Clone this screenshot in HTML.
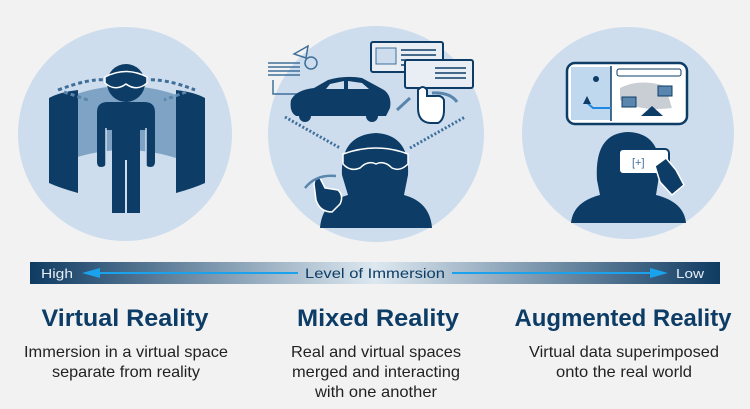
<!DOCTYPE html>
<html><head><meta charset="utf-8"><style>
html,body{margin:0;padding:0;background:#f2f2f2}
svg{display:block}
text{font-family:"Liberation Sans",sans-serif}
</style></head><body>
<svg width="750" height="409" viewBox="0 0 750 409" xmlns="http://www.w3.org/2000/svg">
<defs>
<linearGradient id="bar" x1="0" x2="1" y1="0" y2="0">
<stop offset="0" stop-color="#0f3b62"/><stop offset="0.5" stop-color="#dde8f0"/><stop offset="1" stop-color="#0f3b62"/>
</linearGradient>
</defs>
<rect width="750" height="409" fill="#f2f2f2"/>
<circle cx="125" cy="134" r="107" fill="#cddded"/>
<circle cx="376" cy="134" r="108" fill="#cddded"/>
<circle cx="628" cy="133" r="106" fill="#cddded"/>

<!-- VR -->
<path d="M68 97 Q125 75 182 97 L182 160 Q125 140 68 160Z" fill="#7ea3c4"/>
<path d="M49 98 Q60 92 78 90 L78 193 Q60 188 49 183Z" fill="#0d3d66"/>
<path d="M205 98 Q194 92 176 90 L176 193 Q194 188 205 183Z" fill="#0d3d66"/>
<path d="M58 90 Q90 78 106 80 M144 80 Q165 78 195 90" stroke="#3f6f99" stroke-width="3" stroke-dasharray="4 3" fill="none"/>
<path d="M64 92 L88 100 M186 92 L164 100" stroke="#5a86ad" stroke-width="3" stroke-dasharray="4 3" fill="none"/>
<circle cx="126" cy="83" r="19" fill="#0d3d66"/>
<path d="M105 77 Q126 66 147 77 L147 83 Q137 92 126 84 Q115 92 105 83Z" fill="#0d3d66" stroke="#fff" stroke-width="1.5"/>
<path d="M97 112 Q97 102 108 102 L144 102 Q155 102 155 112 L155 162 Q155 167 150 167 Q146 167 146 162 L146 130 L140 130 L140 213 L112 213 L112 130 L106 130 L106 162 Q106 167 101 167 Q97 167 97 162Z" fill="#0d3d66"/>
<line x1="126" y1="160" x2="126" y2="214" stroke="#cddded" stroke-width="2"/>
<line x1="106" y1="128" x2="106" y2="165" stroke="#cddded" stroke-width="1.5"/>
<line x1="146" y1="128" x2="146" y2="165" stroke="#cddded" stroke-width="1.5"/>

<!-- MR -->
<g fill="none" stroke="#3f6f99" stroke-width="1.5">
<line x1="268" y1="63" x2="300" y2="63"/><line x1="268" y1="67" x2="300" y2="67"/><line x1="268" y1="71" x2="300" y2="71"/><line x1="268" y1="75" x2="300" y2="75"/>
<path d="M273 80 L273 94 L318 94"/>
<path d="M294 54 L308 46 L306 58Z"/><circle cx="311" cy="63" r="6"/>
</g>
<path d="M291 100 Q296 90 314 88 L328 80 Q345 75 362 78 L384 90 Q392 96 390 108 L386 116 L296 116 Q289 112 291 100Z" fill="#0d3d66"/>
<path d="M330 84 L344 81 L344 89 L326 89Z M348 81 L362 83 L369 89 L348 89Z" fill="#cddded"/>
<circle cx="305" cy="116" r="6" fill="#0d3d66"/><circle cx="372" cy="116" r="6" fill="#0d3d66"/>
<rect x="371" y="42" width="72" height="30" rx="2" fill="#e8eef4" stroke="#0d3d66" stroke-width="2"/>
<rect x="376" y="48" width="20" height="16" fill="#cddded" stroke="#3f6f99"/>
<g stroke="#0d3d66" stroke-width="1.5"><line x1="401" y1="50" x2="436" y2="50"/><line x1="401" y1="55" x2="436" y2="55"/><line x1="401" y1="60" x2="436" y2="60"/><line x1="401" y1="65" x2="436" y2="65"/></g>
<rect x="405" y="60" width="68" height="28" rx="2" fill="#e8eef4" stroke="#0d3d66" stroke-width="2"/>
<g stroke="#0d3d66" stroke-width="1.5"><line x1="435" y1="68" x2="466" y2="68"/><line x1="435" y1="73" x2="466" y2="73"/><line x1="435" y1="78" x2="466" y2="78"/></g>
<path d="M418 90 L418 108 Q418 122 430 123 L438 123 Q444 120 444 110 L444 100 Q442 95 436 96 L427 96 L427 90 Q423 84 418 90Z" fill="#fff" stroke="#0d3d66" stroke-width="2"/>
<path d="M410 98 L397 110 M432 93 Q450 92 457 102" stroke="#5a86ad" stroke-width="3" fill="none"/>
<g stroke="#3f6f99" stroke-width="3" stroke-dasharray="2 2"><line x1="285" y1="117" x2="340" y2="148"/><line x1="410" y1="148" x2="465" y2="117"/></g>
<path d="M342 175 Q340 135 376 133 Q410 135 408 175 L404 195 Q430 202 432 228 L320 228 Q322 202 348 195Z" fill="#0d3d66"/>
<path d="M343 154 Q376 142 408 154 L408 164 Q400 172 392 168 Q384 160 376 164 Q368 160 360 168 Q350 172 343 164Z" fill="#0d3d66" stroke="#fff" stroke-width="1.5"/>
<path d="M320 178 L325 188 L338 190 Q344 196 340 204 L332 212 Q320 212 316 200 L314 184 Q315 176 320 178Z" fill="#0d3d66" stroke="#fff" stroke-width="1.5"/>
<path d="M305 188 Q316 174 336 176" stroke="#5a86ad" stroke-width="2.5" fill="none"/>

<!-- AR -->
<rect x="567" y="63" width="120" height="61" rx="8" fill="#fff" stroke="#0d3d66" stroke-width="2.5"/>
<rect x="571" y="67" width="40" height="53" fill="#bfd8ee"/>
<line x1="611" y1="66" x2="611" y2="121" stroke="#0d3d66" stroke-width="1.5"/>
<path d="M585 101 L593 108 L611 108" stroke="#1e88e5" stroke-width="2" fill="none"/>
<path d="M583 104 L587 96 L591 104Z" fill="#0d3d66"/>
<circle cx="596" cy="79" r="3" fill="#0d3d66"/>
<rect x="617" y="69" width="64" height="7" rx="2" fill="#fff" stroke="#0d3d66"/>
<path d="M620 88 Q640 78 665 86 L672 108 Q640 112 620 100Z" fill="#c9ced4"/>
<rect x="622" y="97" width="14" height="10" fill="#5a86ad" stroke="#0d3d66"/>
<rect x="658" y="86" width="14" height="10" fill="#5a86ad" stroke="#0d3d66"/>
<path d="M641 116 L652 106 L663 116Z" fill="#0d3d66"/>
<path d="M597 180 Q594 133 628 132 Q660 133 660 170 L656 195 Q684 202 686 223 L571 223 Q573 202 600 195Z" fill="#0d3d66"/>
<rect x="619" y="149" width="50" height="25" rx="4" fill="#fff" stroke="#0d3d66" stroke-width="2"/>
<text x="632" y="166" font-size="11" fill="#3f6f99">[+]</text>
<path d="M655 166 L666 158 L676 170 L684 185 L672 195 L660 182Z" fill="#0d3d66" stroke="#fff" stroke-width="1.5"/>

<!-- bar -->
<rect x="30" y="262" width="690" height="22" fill="url(#bar)"/>
<text x="41" y="278" font-size="13" fill="#e6eef5" textLength="32" lengthAdjust="spacingAndGlyphs">High</text>
<text x="676" y="278" font-size="13" fill="#e6eef5" textLength="28" lengthAdjust="spacingAndGlyphs">Low</text>
<text x="375" y="278" font-size="14" fill="#0d3d66" text-anchor="middle" textLength="140" lengthAdjust="spacingAndGlyphs">Level of Immersion</text>
<line x1="90" y1="273" x2="298" y2="273" stroke="#1aa3ec" stroke-width="2"/>
<path d="M82 273 L100 268 L100 278Z" fill="#1aa3ec"/>
<line x1="452" y1="273" x2="658" y2="273" stroke="#1aa3ec" stroke-width="2"/>
<path d="M668 273 L650 268 L650 278Z" fill="#1aa3ec"/>

<g font-weight="bold" font-size="24" fill="#0d3d66" text-anchor="middle">
<text x="125" y="326" textLength="167" lengthAdjust="spacingAndGlyphs">Virtual Reality</text>
<text x="378" y="326" textLength="162" lengthAdjust="spacingAndGlyphs">Mixed Reality</text>
<text x="623" y="326" textLength="217" lengthAdjust="spacingAndGlyphs">Augmented Reality</text>
</g>
<g font-size="16" fill="#222" text-anchor="middle">
<text x="126" y="357" textLength="204" lengthAdjust="spacingAndGlyphs">Immersion in a virtual space</text>
<text x="126" y="377" textLength="148" lengthAdjust="spacingAndGlyphs">separate from reality</text>
<text x="376" y="357" textLength="170" lengthAdjust="spacingAndGlyphs">Real and virtual spaces</text>
<text x="376" y="377" textLength="168" lengthAdjust="spacingAndGlyphs">merged and interacting</text>
<text x="376" y="397" textLength="122" lengthAdjust="spacingAndGlyphs">with one another</text>
<text x="624" y="357" textLength="190" lengthAdjust="spacingAndGlyphs">Virtual data superimposed</text>
<text x="624" y="377" textLength="136" lengthAdjust="spacingAndGlyphs">onto the real world</text>
</g>
</svg>
</body></html>
